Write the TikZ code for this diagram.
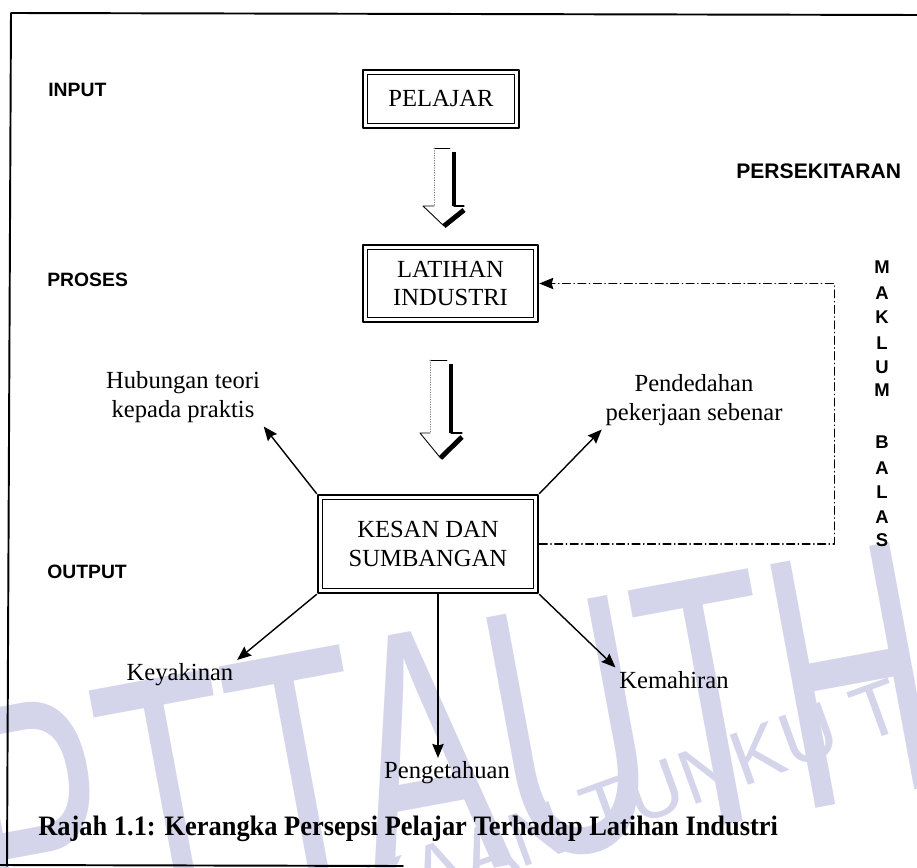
\documentclass[tikz,border=0pt]{standalone}
\usepackage{fontspec}
\setmainfont{Liberation Serif}
\setsansfont{Liberation Sans}
\usetikzlibrary{arrows.meta,calc}
\definecolor{tera}{RGB}{212,212,234}
\begin{document}
\begin{tikzpicture}[line join=round, line cap=round,>={Stealth[length=8pt,width=6.5pt,inset=1pt]},x=0.02cm,y=-0.02cm]
    \tikzset{kotak/.style={draw,line width=1.5pt,align=center,inner sep=0pt,font=\fontsize{14}{16.5}\selectfont},
             label style/.style={align=center,inner sep=2pt,font=\fontsize{14}{16.5}\selectfont},
             tajuk/.style={anchor=west,inner sep=0pt,font=\sffamily\bfseries\fontsize{11}{13}\selectfont},
             huruf/.style={inner sep=0pt,font=\sffamily\bfseries\fontsize{10.5}{12}\selectfont},
             balas/.style={line width=.7pt,dash pattern=on 4.5pt off 2pt on .3pt off 2pt},
             anak panah/.style={->,line width=.8pt}}
    \def\px{0.02cm}
    \useasboundingbox (0,0) rectangle (917,868);
    \begin{scope}
        \clip (0,0) rectangle (917,868);
        \node[tera,anchor=base west,rotate=10.5,xscale=.6,transform shape,inner sep=0pt,
              font=\sffamily\fontsize{205}{205}\selectfont] (tera1) at (-12,962) {PTTAUTHM};
        \node[tera,anchor=base west,rotate=20,transform shape,inner sep=0pt,
              font=\sffamily\fontsize{44}{44}\selectfont] (tera2) at (593,842) {\llap{PERPUSTAKAAN }TUNKU TUN AMINAH};
    \end{scope}
    \draw[line width=1.1pt] (917,15) -- (11,13) -- (7,866);
    \draw[line width=1.1pt] (0,865) -- (403,866);
    \node[tajuk] (input) at (48,90) {INPUT};
    \node[tajuk] (proses) at (47,280) {PROSES};
    \node[tajuk] (output) at (47,572) {OUTPUT};
    \node[tajuk,font=\sffamily\bfseries\fontsize{12}{14}\selectfont] (persekitaran) at (736,171) {PERSEKITARAN};
    \foreach \h/\y [count=\i] in {M/267,A/293,K/317,L/343,U/367,M/390,B/442,A/468,L/492,A/517,S/540}
        \node[huruf] (mb\i) at (882,\y) {\h};
    \node[kotak,minimum width={156*\px},minimum height={58*\px}] (pelajar) at (441,99) {PELAJAR};
    \node[kotak,minimum width={175*\px},minimum height={77*\px}] (latihan) at (450.5,283.5) {LATIHAN\\INDUSTRI};
    \node[kotak,minimum width={220*\px},minimum height={98*\px}] (kesan) at (428,544) {KESAN DAN\\SUMBANGAN};
    \foreach \k in {pelajar,latihan,kesan}
        \draw[line width=.5pt] ([xshift=3.2pt,yshift=-3.2pt]\k.north west) rectangle ([xshift=-3.2pt,yshift=3.2pt]\k.south east);
    \foreach \kiri/\kanan/\atas/\leher/\hk/\hn/\hujung in {434/454/148/206/423/464/226,430/451/360/433/420/462/458}{
        \draw[line width=.5pt] (\kanan-4,\atas) -- (\kiri,\atas);
        \draw[line width=.4pt,densely dotted,gray] (\kiri,\atas) -- (\kiri,\leher);
        \draw[line width=.5pt] (\kiri,\leher) -- (\hk,\leher) -- ({(\kiri+\kanan)/2},\hujung);
        \draw[line width=2.3pt,line cap=butt] (\kanan,\atas+4) -- (\kanan,\leher);
        \draw[line width=2.8pt,line cap=butt] ({(\kiri+\kanan)/2},\hujung) -- (\hn,\leher+4);
        \draw[line width=.6pt] (\hn,\leher) -- (\kanan,\leher);
    }
    \node[label style] (hubungan) at (183,397) {Hubungan teori\\kepada praktis};
    \node[label style] (pendedahan) at (694,400) {Pendedahan\\pekerjaan sebenar};
    \node[label style] (keyakinan) at (180,675) {Keyakinan};
    \node[label style] (kemahiran) at (674,680) {Kemahiran};
    \node[label style] (pengetahuan) at (447,773) {Pengetahuan};
    \draw[anak panah] (kesan.north west) -- (hubungan.south east);
    \draw[anak panah] (kesan.north east) -- (pendedahan.south west);
    \draw[anak panah] (kesan.south west) -- (keyakinan.north east);
    \draw[anak panah] (kesan.south east) -- (kemahiran.north west);
    \coordinate (bawah) at ($(kesan.south)+(10,0)$);
    \draw[anak panah] (bawah) -- (bawah |- pengetahuan.north);
    \draw[balas,->] (kesan.east) -- ++(295,0) |- (latihan.east);
    \node[anchor=west,inner sep=0pt,font=\bfseries\fontsize{16}{18}\selectfont] (rajah) at (38,829)
        {\scalebox{.94}[1]{Rajah 1.1: Kerangka Persepsi Pelajar Terhadap Latihan Industri}};
\end{tikzpicture}
\end{document}
